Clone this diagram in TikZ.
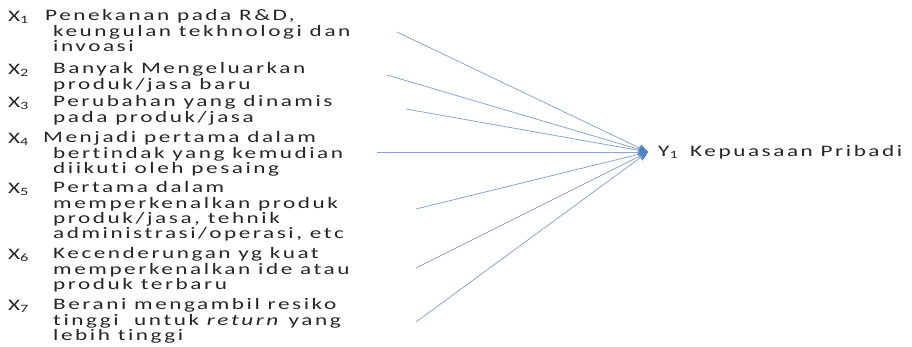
\documentclass[tikz,border=0pt]{standalone}
\usepackage{fontspec}
\setmainfont[FakeStretch=1.45,LetterSpace=16,Ligatures=NoCommon]{Carlito}
\usetikzlibrary{arrows.meta}
\definecolor{linkblue}{RGB}{140,166,202}
\definecolor{arrowblue}{RGB}{79,129,189}
\definecolor{textgray}{RGB}{38,38,38}
\begin{document}
\begin{tikzpicture}[x=1pt, y=-1pt,
  var/.style={anchor=base west, inner sep=0pt, text=textgray,
    font=\fontsize{16}{15.2}\selectfont},
  item/.style={var, anchor=north west, align=left},
  link/.style={draw=linkblue, line width=0.8pt,
    -{Stealth[length=10pt, width=8pt, color=arrowblue]}}
]
\useasboundingbox (0,0) rectangle (912,346);
\node[var] (x1) at (8,21) {X\textsubscript{1}};
\node[item] (t1) at (53,9.5) {\hspace*{-8pt}Penekanan pada R\&D,\\keungulan tekhnologi dan\\invoasi};
\node[var] (x2) at (8,74) {X\textsubscript{2}};
\node[item] (t2) at (53,62.5) {Banyak Mengeluarkan\\produk/jasa baru};
\node[var] (x3) at (8,107) {X\textsubscript{3}};
\node[item] (t3) at (53,95.5) {Perubahan yang dinamis\\pada produk/jasa};
\node[var] (x4) at (8,143) {X\textsubscript{4}};
\node[item] (t4) at (53,131.5) {\hspace*{-10pt}Menjadi pertama dalam\\bertindak yang kemudian\\diikuti oleh pesaing};
\node[var] (x5) at (8,193) {X\textsubscript{5}};
\node[item] (t5) at (53,181.5) {Pertama dalam\\memperkenalkan produk\\produk/jasa, tehnik\\administrasi/operasi, etc};
\node[var] (x6) at (8,259) {X\textsubscript{6}};
\node[item] (t6) at (53,247.5) {Kecenderungan yg kuat\\memperkenalkan ide atau\\produk terbaru};
\node[var] (x7) at (8,310) {X\textsubscript{7}};
\node[item] (t7) at (53,298.5) {Berani mengambil resiko\\tinggi\ \ untuk \textit{return} yang\\lebih tinggi};

\node[var, anchor=west, inner xsep=10pt] (y1) at (648,152) {Y\textsubscript{1}\hspace{12pt}Kepuasaan Pribadi};

\coordinate (s1) at (397,32);
\coordinate (s2) at (387,75);
\coordinate (s3) at (406,109);
\coordinate (s4) at (377,152);
\coordinate (s5) at (416,209);
\coordinate (s6) at (416,268);
\coordinate (s7) at (416,322);
\foreach \i in {1,...,7}
  \draw[link] (s\i) -- (y1.west);
\end{tikzpicture}
\end{document}
